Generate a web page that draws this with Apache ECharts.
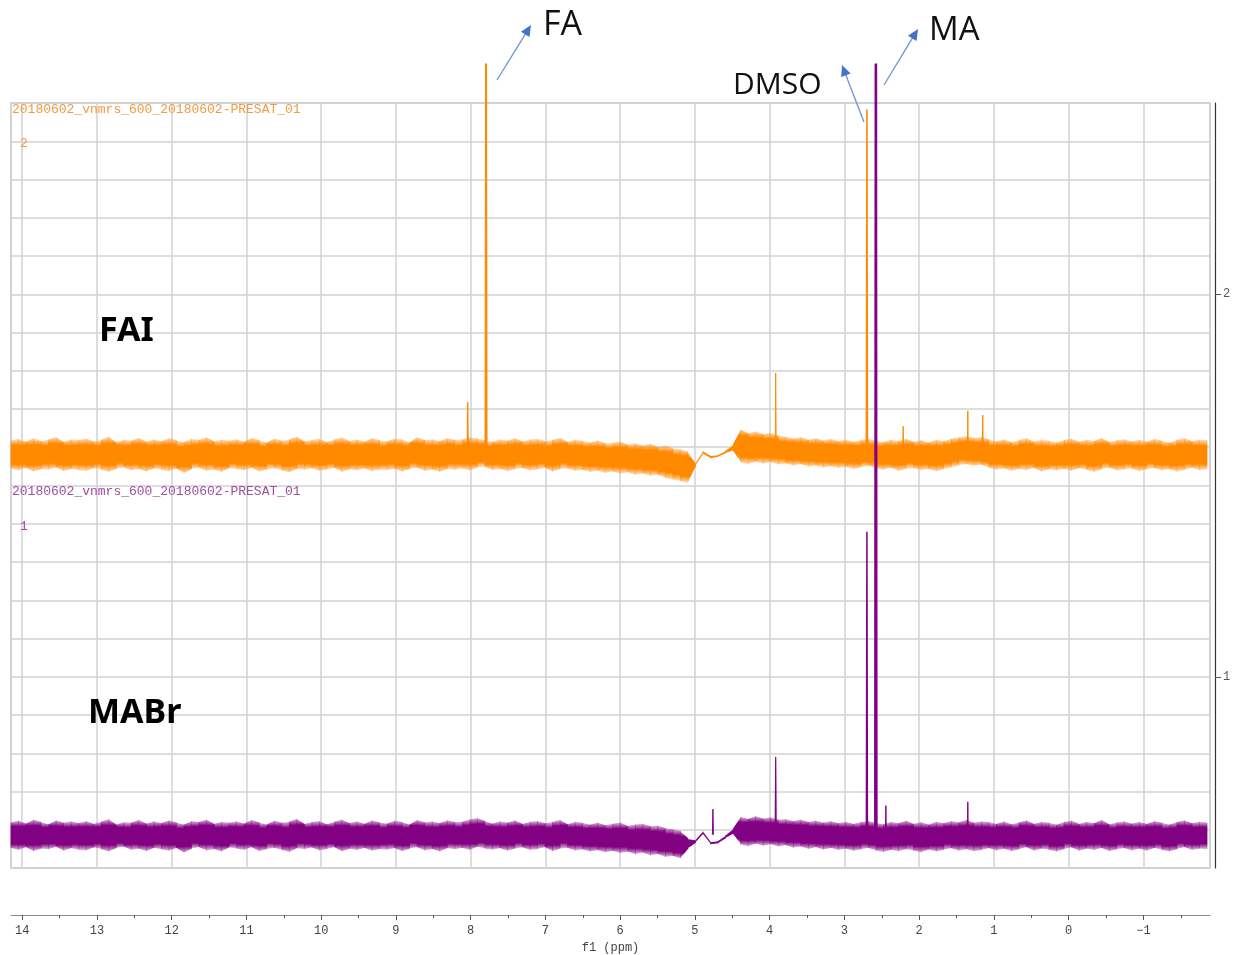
<!DOCTYPE html>
<html><head><meta charset="utf-8">
<script src="https://cdn.jsdelivr.net/npm/echarts@6/dist/echarts.min.js"></script>
<style>html,body{margin:0;padding:0;background:#fff}#c{width:1236px;height:955px}</style>
</head><body><div id="c"></div>
<script>
// ---- data ----
// noise envelope of each trace, sampled evenly from ppmStart to ppmEnd
const ppmStart = 14.15, ppmEnd = -1.85;
const faiTop = [
1.617,1.622,1.614,1.624,1.616,1.62,1.627,1.613,1.621,1.618,
1.623,1.615,1.619,1.628,1.612,1.62,1.617,1.625,1.614,1.621,
1.616,1.624,1.618,1.613,1.622,1.619,1.626,1.615,1.62,1.617,
1.621,1.614,1.625,1.618,1.612,1.623,1.617,1.62,1.628,1.615,
1.619,1.622,1.613,1.62,1.626,1.616,1.621,1.614,1.624,1.618,
1.615,1.623,1.62,1.612,1.627,1.618,1.621,1.616,1.624,1.619,
1.62,1.626,1.623,1.618,1.614,1.621,1.617,1.624,1.615,1.62,
1.622,1.616,1.619,1.625,1.613,1.62,1.617,1.612,1.618,1.61,
1.612,1.616,1.606,1.611,1.604,1.61,1.6,1.605,1.597,1.595,
1.588,1.556,1.59,1.577,1.579,1.59,1.606,1.648,1.636,1.642,
1.634,1.638,1.63,1.628,1.622,1.627,1.619,1.624,1.617,1.622,
1.616,1.62,1.614,1.619,1.622,1.617,1.613,1.62,1.616,1.623,
1.614,1.619,1.612,1.62,1.616,1.622,1.626,1.629,1.624,1.627,
1.62,1.615,1.621,1.613,1.618,1.624,1.614,1.62,1.617,1.612,
1.619,1.623,1.614,1.62,1.616,1.625,1.613,1.618,1.621,1.615,
1.62,1.614,1.622,1.617,1.612,1.619,1.624,1.616,1.62,1.618];
const faiBottom = [
1.545,1.539,1.547,1.536,1.543,1.541,1.548,1.537,1.544,1.54,
1.538,1.546,1.542,1.535,1.544,1.548,1.539,1.543,1.536,1.545,
1.541,1.537,1.545,1.532,1.543,1.547,1.538,1.542,1.535,1.546,
1.543,1.539,1.547,1.536,1.542,1.545,1.54,1.534,1.544,1.541,
1.546,1.538,1.542,1.547,1.535,1.543,1.539,1.545,1.537,1.542,
1.54,1.544,1.536,1.543,1.547,1.538,1.542,1.535,1.544,1.541,
1.545,1.539,1.548,1.55,1.54,1.544,1.537,1.543,1.546,1.539,
1.542,1.547,1.536,1.543,1.545,1.538,1.541,1.535,1.539,1.533,
1.537,1.531,1.535,1.528,1.532,1.525,1.529,1.52,1.516,1.512,
1.507,1.551,1.584,1.571,1.575,1.584,1.592,1.561,1.556,1.563,
1.557,1.562,1.555,1.558,1.552,1.556,1.549,1.553,1.547,1.551,
1.546,1.55,1.543,1.548,1.552,1.545,1.541,1.547,1.538,1.544,
1.546,1.54,1.544,1.537,1.543,1.548,1.553,1.556,1.551,1.555,
1.547,1.541,1.545,1.538,1.544,1.54,1.547,1.536,1.543,1.539,
1.544,1.538,1.546,1.541,1.535,1.543,1.547,1.539,1.542,1.545,
1.537,1.543,1.546,1.539,1.544,1.536,1.541,1.547,1.54,1.543];
const mabrTop = [
0.619,0.624,0.616,0.627,0.62,0.614,0.625,0.618,0.622,0.617,
0.623,0.615,0.621,0.628,0.613,0.62,0.618,0.626,0.616,0.622,
0.617,0.625,0.619,0.613,0.623,0.62,0.627,0.615,0.621,0.618,
0.622,0.616,0.626,0.619,0.613,0.624,0.618,0.621,0.629,0.615,
0.62,0.623,0.614,0.621,0.627,0.617,0.622,0.615,0.625,0.619,
0.616,0.624,0.62,0.613,0.626,0.619,0.622,0.617,0.625,0.62,
0.621,0.627,0.631,0.623,0.616,0.622,0.618,0.625,0.615,0.621,
0.623,0.617,0.62,0.626,0.614,0.621,0.618,0.613,0.619,0.612,
0.616,0.619,0.61,0.614,0.616,0.609,0.611,0.604,0.601,0.597,
0.577,0.572,0.597,0.567,0.57,0.584,0.602,0.634,0.628,0.636,
0.629,0.633,0.626,0.628,0.622,0.627,0.62,0.624,0.618,0.623,
0.617,0.621,0.615,0.62,0.623,0.618,0.614,0.621,0.617,0.624,
0.615,0.62,0.613,0.621,0.617,0.623,0.619,0.626,0.618,0.622,
0.62,0.615,0.622,0.614,0.619,0.625,0.615,0.621,0.618,0.613,
0.62,0.624,0.615,0.621,0.617,0.626,0.614,0.619,0.622,0.616,
0.621,0.615,0.623,0.618,0.613,0.62,0.625,0.617,0.621,0.619];
const mabrBottom = [
0.553,0.547,0.555,0.544,0.551,0.549,0.556,0.545,0.552,0.548,
0.546,0.554,0.55,0.543,0.552,0.556,0.547,0.551,0.544,0.553,
0.549,0.545,0.553,0.54,0.551,0.555,0.546,0.55,0.543,0.554,
0.551,0.547,0.555,0.544,0.55,0.553,0.548,0.542,0.552,0.549,
0.554,0.546,0.55,0.555,0.543,0.551,0.547,0.553,0.545,0.55,
0.548,0.552,0.544,0.551,0.555,0.546,0.55,0.543,0.552,0.549,
0.553,0.547,0.556,0.551,0.548,0.552,0.545,0.551,0.554,0.547,
0.55,0.555,0.544,0.551,0.553,0.546,0.549,0.543,0.547,0.541,
0.545,0.539,0.543,0.536,0.541,0.533,0.537,0.529,0.532,0.525,
0.551,0.566,0.59,0.562,0.565,0.578,0.59,0.562,0.557,0.564,
0.558,0.563,0.556,0.56,0.553,0.557,0.55,0.555,0.548,0.553,
0.547,0.551,0.545,0.549,0.553,0.546,0.542,0.548,0.544,0.55,
0.546,0.541,0.549,0.543,0.548,0.552,0.545,0.55,0.544,0.547,
0.552,0.546,0.551,0.544,0.549,0.555,0.545,0.551,0.548,0.543,
0.55,0.554,0.545,0.551,0.547,0.553,0.544,0.549,0.552,0.546,
0.551,0.545,0.553,0.548,0.543,0.55,0.555,0.547,0.551,0.549];
// baselines and peaks
const faiBase = 1.581, mabrBase = 0.587;
const faiPeakPpm    = [8.04, 7.795, 3.92, 2.70, 2.215, 1.35, 1.15];
const faiPeakHeight = [1.718, 2.603, 1.794, 2.483, 1.655, 1.695, 1.684];
const mabrPeakPpm    = [4.76, 3.92, 2.70, 2.58, 2.446, 1.35];
const mabrPeakHeight = [0.654, 0.791, 1.379, 2.603, 0.663, 0.673];
// axis ticks
const xMajorTicks = [14,13,12,11,10,9,8,7,6,5,4,3,2,1,0,-1];
const xMinorTicks = [13.5,12.5,11.5,10.5,9.5,8.5,7.5,6.5,5.5,4.5,3.5,2.5,1.5,0.5,-0.5,-1.5];
const yLabelTicks = [1, 2];
const fileLabel = '20180602_vnmrs_600_20180602-PRESAT_01';

// ---- build ----
const ORANGE = '#ff8a00', PURPLE = '#820082';
function ppmAt(i, n) { return ppmStart + (ppmEnd - ppmStart) * i / (n - 1); }
function bandSeries(top, bottom, color, edge) {
  const n = top.length;
  const data = top.map((t, i) => [ppmAt(i, n), bottom[i], t]);
  const grad = new echarts.graphic.LinearGradient(0, 0, 0, 1, [
    { offset: 0, color: edge }, { offset: 0.2, color: color },
    { offset: 0.8, color: color }, { offset: 1, color: edge }]);
  return {
    type: 'custom', data: data, encode: { x: 0, y: [1, 2] }, clip: false, silent: true,
    renderItem: function (params, api) {
      const i = params.dataIndex;
      if (i >= n - 1) return null;
      const a = data[i], b = data[i + 1];
      const pa = api.coord([a[0], a[2]]), pb = api.coord([b[0], b[2]]);
      const qb = api.coord([b[0], b[1]]), qa = api.coord([a[0], a[1]]);
      const h = Math.max(qa[1], qb[1]) - Math.min(pa[1], pb[1]);
      return { type: 'polygon',
               shape: { points: [[pa[0] - 0.4, pa[1]], [pb[0] + 0.4, pb[1]], [qb[0] + 0.4, qb[1]], [qa[0] - 0.4, qa[1]]] },
               style: { fill: h < 8 ? color : grad } };
    }
  };
}
function peakSeries(ppms, heights, base, color, widths) {
  return ppms.map((p, k) => ({
    type: 'line', symbol: 'none', clip: false, silent: true,
    data: [[p + 0.007, base], [p, heights[k]], [p - 0.007, base]],
    lineStyle: { color: color, width: widths ? widths[k] : 1.3 }
  }));
}
const series = [].concat(
  [bandSeries(faiTop, faiBottom, ORANGE, 'rgba(255,150,40,0.3)')],
  peakSeries(faiPeakPpm, faiPeakHeight, faiBase, ORANGE, [1.3, 2, 1, 1.6, 1, 1, 1]),
  [bandSeries(mabrTop, mabrBottom, PURPLE, 'rgba(140,30,140,0.3)')],
  peakSeries(mabrPeakPpm, mabrPeakHeight, mabrBase, PURPLE, [1, 1.2, 1.5, 2.6, 1, 1])
);

function arrow(x1, y1, x2, y2) {
  const dx = x2 - x1, dy = y2 - y1, L = Math.hypot(dx, dy);
  const ux = dx / L, uy = dy / L, nx = -uy, ny = ux;
  const hl = 11, hw = 5;
  const bx = x2 - ux * hl, by = y2 - uy * hl;
  return [
    { type: 'line', shape: { x1: x1, y1: y1, x2: bx + ux * 2, y2: by + uy * 2 }, style: { stroke: '#6f93d6', lineWidth: 1.3 }, z: 100 },
    { type: 'polygon', shape: { points: [[x2, y2], [bx + nx * hw, by + ny * hw], [bx - nx * hw, by - ny * hw]] }, style: { fill: '#4472c4' }, z: 100 }
  ];
}
const monoFont = '"Liberation Mono", "DejaVu Sans Mono", monospace';
const graphics = [].concat(
  [
    { type: 'text', left: 12, top: 103, style: { text: fileLabel, font: '13px ' + monoFont, fill: '#f29a40' }, z: 100 },
    { type: 'text', left: 20, top: 137, style: { text: '2', font: '13px ' + monoFont, fill: '#f29a40' }, z: 100 },
    { type: 'text', left: 12, top: 485, style: { text: fileLabel, font: '13px ' + monoFont, fill: '#a04ca0' }, z: 100 },
    { type: 'text', left: 20, top: 520, style: { text: '1', font: '13px ' + monoFont, fill: '#a04ca0' }, z: 100 },
    { type: 'text', left: 543, top: 8, style: { text: 'FA', font: '34px "Open Sans", "Noto Sans", sans-serif', fill: '#111' }, z: 100 },
    { type: 'text', left: 929, top: 14, style: { text: 'MA', font: '33px "Open Sans", "Noto Sans", sans-serif', fill: '#111' }, z: 100 },
    { type: 'text', left: 733, top: 70, style: { text: 'DMSO', font: '30px "Open Sans", "Noto Sans", sans-serif', fill: '#111' }, z: 100 },
    { type: 'text', left: 99, top: 314, style: { text: 'FAI', font: 'bold 34px "Noto Sans", "Open Sans", sans-serif', fill: '#000' }, z: 100 },
    { type: 'text', left: 88, top: 696, style: { text: 'MABr', font: 'bold 34px "Noto Sans", "Open Sans", sans-serif', fill: '#000' }, z: 100 }
  ],
  arrow(497, 80, 531, 25),
  arrow(884, 85, 918, 29),
  arrow(864, 122, 842, 65)
);

const fmt = v => String(v).replace('-', '\u2212');
const option = {
  animation: false,
  backgroundColor: '#ffffff',
  grid: { left: 11, right: 26, top: 103, bottom: 87, show: true, borderColor: '#c4c4c4', borderWidth: 1.5,
          backgroundColor: 'transparent', containLabel: false, outerBoundsMode: 'none' },
  xAxis: [
    { type: 'value', min: -1.89, max: 14.15, inverse: true, minInterval: 1, maxInterval: 1,
      axisLine: { show: false, onZero: false }, axisTick: { show: false }, axisLabel: { show: false },
      splitLine: { show: true, lineStyle: { color: '#d2d2d2', width: 1.5 } } },
    { type: 'value', min: -1.89, max: 14.15, inverse: true, position: 'bottom', offset: 47,
      axisLine: { show: true, onZero: false, lineStyle: { color: '#8a8a8a', width: 1.2 } },
      axisTick: { show: true, customValues: xMajorTicks, length: 5, lineStyle: { color: '#555' } },
      axisLabel: { show: true, customValues: xMajorTicks, formatter: fmt, fontFamily: monoFont, fontSize: 12, color: '#444', margin: 10 },
      splitLine: { show: false },
      name: 'f1 (ppm)', nameLocation: 'middle', nameGap: 27,
      nameTextStyle: { fontFamily: monoFont, fontSize: 12, color: '#444' } },
    { type: 'value', min: -1.89, max: 14.15, inverse: true, position: 'bottom', offset: 47,
      axisLine: { show: false, onZero: false },
      axisTick: { show: true, customValues: xMinorTicks, length: 3, lineStyle: { color: '#555' } },
      axisLabel: { show: false }, splitLine: { show: false } }
  ],
  yAxis: [
    { type: 'value', min: 0.5, max: 2.5, interval: 0.1, position: 'right',
      axisLine: { show: false, onZero: false }, axisTick: { show: false }, axisLabel: { show: false },
      splitLine: { show: true, lineStyle: { color: '#d2d2d2', width: 1.5 } } },
    { type: 'value', min: 0.5, max: 2.5, position: 'right', offset: 5,
      axisLine: { show: true, onZero: false, lineStyle: { color: '#333', width: 1.2 } },
      axisTick: { show: true, customValues: yLabelTicks, length: 6, inside: false, lineStyle: { color: '#555' } },
      axisLabel: { show: true, customValues: yLabelTicks, fontFamily: monoFont, fontSize: 12, color: '#555', margin: 8 },
      splitLine: { show: false } }
  ],
  series: series,
  graphic: graphics
};
const chart = echarts.init(document.getElementById('c'), null, { renderer: 'canvas' });
chart.setOption(option);
</script>
</body></html>
